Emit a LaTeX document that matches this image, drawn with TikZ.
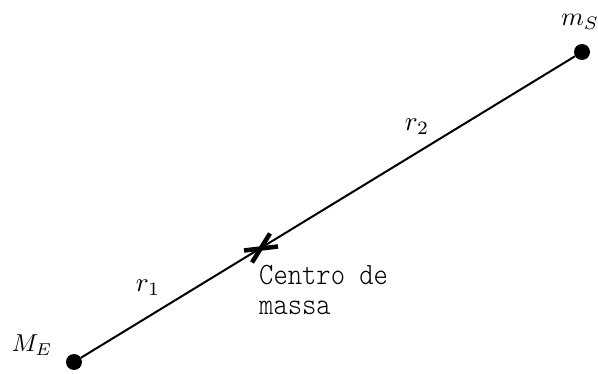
\documentclass[tikz,border=0pt]{standalone}
\usepackage{fontspec}
\newfontfamily\cmfont[FakeStretch=0.88]{Latin Modern Mono Light}
\begin{document}
\begin{tikzpicture}[x=1pt,y=-1pt,
  mass/.style={circle,fill=black,minimum size=16pt,inner sep=0pt},
  lbl/.style={inner sep=0pt},
  link/.style={line width=2pt},
  crossbar/.style={line width=4.5pt}]
\useasboundingbox (0,0) rectangle (598,374);
\node[mass] (E) at (74,362) {};
\node[mass] (S) at (582,52) {};
\draw[link] (E) -- (S);
\coordinate (cm) at (260,248.5);
\draw[crossbar] ([shift={(-16,2)}]cm) -- ([shift={(18,-2)}]cm);
\draw[crossbar] ([shift={(10,-15)}]cm) -- ([shift={(-8,14)}]cm);
\node[lbl] (lE) at (32,345) {\scalebox{2.45}{$M_E$}};
\node[lbl] (lS) at (580,22) {\scalebox{2.6}{$m_S$}};
\node[lbl] (r1) at (148,288) {\scalebox{2.7}{$r_1$}};
\node[lbl] (r2) at (417,127) {\scalebox{2.7}{$r_2$}};
\node[anchor=north west,inner sep=0pt,align=left,font=\cmfont\fontsize{31}{30}\selectfont] (txt) at (259,265) {Centro de\\massa};
\end{tikzpicture}
\end{document}
